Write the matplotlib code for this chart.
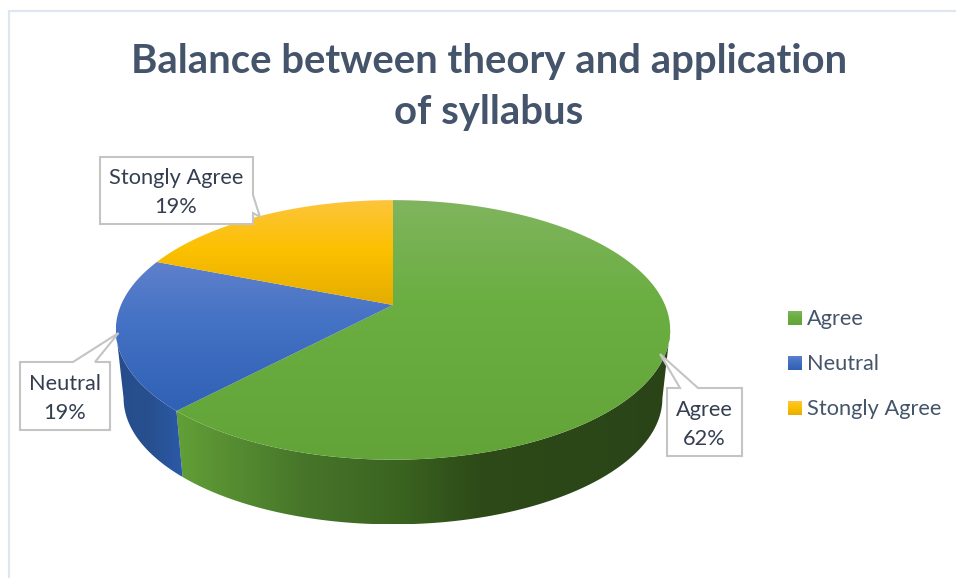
import numpy as np
import matplotlib
matplotlib.use("Agg")
import matplotlib.pyplot as plt
from matplotlib.colors import to_rgb
from matplotlib.patches import Polygon

# ---- data ----
title = "Balance between theory and application\nof syllabus"
categories = ["Agree", "Neutral", "Stongly Agree"]
percents = [62, 19, 19]

# ---- styling ----
top_stops = {
    "Agree": [(200, "#80b55e"), (300, "#6bae42"), (460, "#62a437")],
    "Neutral": [(262, "#5f80cc"), (322, "#4472c4"), (415, "#2f60b4")],
    "Stongly Agree": [(200, "#fdc53c"), (250, "#fcc000"), (305, "#e4ad00")],
}
wall_stops = {
    "Agree": [(177, "#629f37"), (300, "#47762a"), (400, "#3a6320"), (480, "#2d4a18"), (670, "#2a4417")],
    "Neutral": [(116, "#264c8c"), (150, "#28508f"), (183, "#2c5aa8")],
    "Stongly Agree": [(116, "#c09000"), (400, "#c09000")],
}
text_col = "#333f50"
title_col = "#44546a"
box_col = "#c4c4c4"
frame_col = "#e0e6ef"
font = "Lato"

# pie projection (pixels)
cx, cy_top, cy_low = 393, 305, 374
ax_r, by_r, persp, low_scale = 272, 125, 0.192, 0.972

fig = plt.figure(figsize=(9.56, 5.78), dpi=100)
ax = fig.add_axes([0, 0, 1, 1])
ax.set_axis_off()


def project(theta, cy, scale=1.0):
    """theta measured clockwise from the top of the pie, radians."""
    x, y = np.sin(theta), np.cos(theta)
    w = 1 + persp * y
    return cx + scale * ax_r * x / w, cy - scale * by_r * y / w


def gradient(stops, lo, hi, vertical):
    pos = np.linspace(lo, hi, 300)
    xs = [s[0] for s in stops]
    cols = np.array([to_rgb(s[1]) for s in stops])
    arr = np.stack([np.interp(pos, xs, cols[:, i]) for i in range(3)], axis=-1)
    return arr[:, None, :] if vertical else arr[None, :, :]


def fill(poly_xy, stops, vertical, zorder):
    poly = Polygon(poly_xy, closed=True, transform=ax.transData, fc="none", ec="none")
    ax.add_patch(poly)
    x0, y0 = poly_xy.min(axis=0)
    x1, y1 = poly_xy.max(axis=0)
    img = gradient(stops, y0, y1, True) if vertical else gradient(stops, x0, x1, False)
    im = ax.imshow(img, extent=(x0, x1, y1, y0), aspect="auto", origin="upper",
                   interpolation="bilinear", zorder=zorder)
    im.set_clip_path(poly)


# the wall is seen only between the two silhouette angles of the projected circle
vis_lo = np.arccos(-persp)
vis_hi = 2 * np.pi - vis_lo

edges = np.cumsum([0] + percents) / sum(percents) * 2 * np.pi
for name, a, b in zip(categories, edges[:-1], edges[1:]):
    t = np.linspace(a, b, 200)
    tx, ty = project(t, cy_top)
    va, vb = max(a, vis_lo), min(b, vis_hi)
    if vb > va:
        tv = np.linspace(va, vb, 200)
        ux, uy = project(tv, cy_top)
        lx, ly = project(tv, cy_low, low_scale)
        wall = np.column_stack([np.r_[ux, lx[::-1]], np.r_[uy, ly[::-1]]])
        fill(wall, wall_stops[name], False, 2)
    top = np.column_stack([np.r_[cx, tx], np.r_[cy_top, ty]])
    fill(top, top_stops[name], True, 3)

# frame
ax.plot([9, 9, 956], [578, 11, 11], color=frame_col, lw=1.6, zorder=1, solid_joinstyle="miter")

# title
ax.text(489, 87, title, ha="center", va="center", fontsize=28.8, fontweight="bold",
        color=title_col, family=font, linespacing=1.45, zorder=6)

# callouts
callouts = {
    "Agree": [(667, 388), (680, 388), (660, 354), (698, 388), (742, 388), (742, 456), (667, 456)],
    "Neutral": [(20, 362), (73, 362), (118.5, 333), (95, 362), (110, 362), (110, 430), (20, 430)],
    "Stongly Agree": [(100, 157), (253, 157), (253, 195), (260, 217), (253, 213), (253, 224), (100, 224)],
}
label_pos = {"Agree": (704.5, 424.5), "Neutral": (65, 398.5), "Stongly Agree": (176, 192.5)}
for name, pct in zip(categories, percents):
    ax.add_patch(Polygon(callouts[name], closed=True, fc="white", ec=box_col, lw=1.5, zorder=5,
                         joinstyle="miter"))
    ax.text(*label_pos[name], f"{name}\n{pct}%", ha="center", va="center", fontsize=15.7,
            color=text_col, family=font, linespacing=1.55, zorder=6)

# legend
for name, y in zip(categories, [318, 363, 408]):
    img = gradient(top_stops[name], top_stops[name][0][0], top_stops[name][-1][0], True)
    ax.imshow(img, extent=(788, 802, y + 7, y - 7), aspect="auto", origin="upper", zorder=4)
    ax.text(807, y + 1, name, ha="left", va="center", fontsize=15.7, color=title_col,
            family=font, zorder=6)

ax.set_xlim(0, 956)
ax.set_ylim(578, 0)
fig.savefig("out.png", dpi=100, facecolor="white")
